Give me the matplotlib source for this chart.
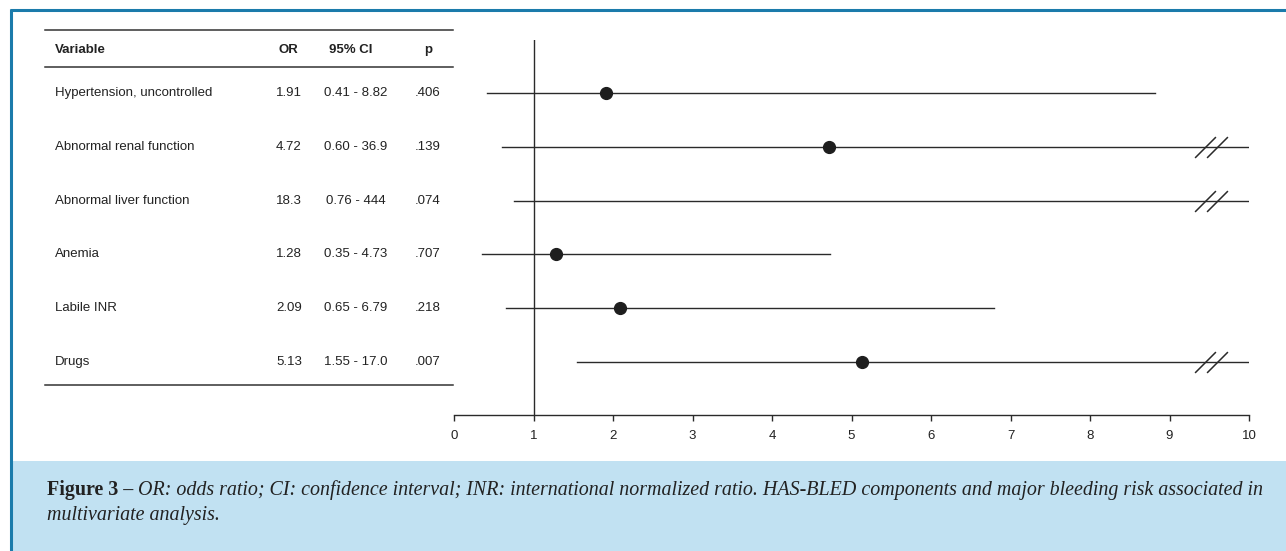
import matplotlib
matplotlib.use("Agg")
import matplotlib.pyplot as plt
import matplotlib.transforms as mtransforms
from matplotlib.lines import Line2D
from matplotlib.patches import Rectangle
from matplotlib.path import Path
from matplotlib.text import Annotation
import numpy as np

# ---- data ----
variables = ["Hypertension, uncontrolled", "Abnormal renal function", "Abnormal liver function",
             "Anemia", "Labile INR", "Drugs"]
or_values = [1.91, 4.72, 18.3, 1.28, 2.09, 5.13]
ci_low = [0.41, 0.60, 0.76, 0.35, 0.65, 1.55]
ci_high = [8.82, 36.9, 444, 4.73, 6.79, 17.0]
or_labels = ["1.91", "4.72", "18.3", "1.28", "2.09", "5.13"]
ci_labels = ["0.41 - 8.82", "0.60 - 36.9", "0.76 - 444", "0.35 - 4.73", "0.65 - 6.79", "1.55 - 17.0"]
p_labels = [".406", ".139", ".074", ".707", ".218", ".007"]
headers = ["Variable", "OR", "95% CI", "p"]
xticks = list(range(0, 11))
caption_bold = "Figure 3 \u2013"
caption_line1 = " OR: odds ratio; CI: confidence interval; INR: international normalized ratio. HAS-BLED components and major bleeding risk associated in"
caption_line2 = "multivariate analysis."

W, H = 1286, 551
fig = plt.figure(figsize=(W / 100, H / 100), dpi=100)
fig.patch.set_facecolor("white")

def fx(px):
    return px / W

def fy(py):
    return 1 - py / H

BLUE = "#1b7bab"
LINE = "#2a2a2a"
TXT = "#222222"

# caption box and frame
fig.add_artist(Rectangle((fx(12), 0), 1 - fx(12), fy(461), transform=fig.transFigure,
                         facecolor="#c1e1f2", edgecolor="none", zorder=0))
fig.add_artist(Line2D([fx(10), 1], [fy(10), fy(10)], transform=fig.transFigure, color=BLUE, lw=2.2,
                      solid_capstyle="butt"))
fig.add_artist(Line2D([fx(10.5), fx(10.5)], [fy(9), 0], transform=fig.transFigure, color=BLUE, lw=2.2,
                      solid_capstyle="butt"))

# forest axes
ax = fig.add_axes([fx(454), fy(415), fx(1249) - fx(454), fy(40) - fy(415)])
ax.set_facecolor("none")
n = len(variables)
ypos = np.arange(n)
ax.set_xlim(0, 10)
ax.set_ylim(n - 1 + 0.985, -0.985)
for s in ["top", "right", "left"]:
    ax.spines[s].set_visible(False)
ax.spines["bottom"].set_color(LINE)
ax.spines["bottom"].set_linewidth(1.0)
ax.set_yticks([])
ax.set_xticks(xticks)
ax.set_xticklabels([str(t) for t in xticks], fontsize=9.5, family="Liberation Sans", color=TXT)
ax.tick_params(axis="x", direction="out", length=4.5, width=1.0, color=LINE, pad=6)

ax.axvline(1, color=LINE, lw=1.0)
for i in range(n):
    ax.plot([ci_low[i], ci_high[i]], [ypos[i], ypos[i]], color=LINE, lw=1.0, clip_on=True)
ax.plot(or_values, ypos, "o", color="#1e1e1e", markersize=8.5, clip_on=True, zorder=3)

# break marks for intervals that extend past the axis
slash = Path([(-0.5, -0.5), (0.5, 0.5)])
for i in range(n):
    if ci_high[i] > ax.get_xlim()[1]:
        ax.plot([9.45, 9.6], [ypos[i], ypos[i]], linestyle="none", marker=slash,
                markersize=15, markeredgewidth=1.1, color=LINE, clip_on=False)

# table
tr = mtransforms.blended_transform_factory(fig.transFigure, ax.transData)
def py2y(py):
    return -0.985 + (py - 40) / 53.8

tfont = dict(family="Liberation Sans", fontsize=9.5, color=TXT)
for yl in [py2y(30), py2y(67), py2y(385)]:
    fig.add_artist(Line2D([fx(45), fx(453)], [yl, yl], transform=tr, color="#333333", lw=1.1))

hy = py2y(50)
fig.text(fx(55), hy, headers[0], transform=tr, ha="left", va="center", fontweight="bold", **tfont)
fig.text(fx(288), hy, headers[1], transform=tr, ha="center", va="center", fontweight="bold", **tfont)
fig.text(fx(351), hy, headers[2], transform=tr, ha="center", va="center", fontweight="bold", **tfont)
fig.text(fx(428), hy, headers[3], transform=tr, ha="center", va="center", fontweight="bold", **tfont)
for i in range(n):
    fig.text(fx(55), ypos[i], variables[i], transform=tr, ha="left", va="center", **tfont)
    fig.text(fx(289), ypos[i], or_labels[i], transform=tr, ha="center", va="center", **tfont)
    fig.text(fx(356), ypos[i], ci_labels[i], transform=tr, ha="center", va="center", **tfont)
    fig.text(fx(428), ypos[i], p_labels[i], transform=tr, ha="center", va="center", **tfont)

# caption
cfont = dict(family="Liberation Serif", fontsize=14.4, color="#222222")
t1 = fig.text(fx(47), fy(495), caption_bold, ha="left", va="baseline", fontweight="bold", **cfont)
fig.add_artist(Annotation(caption_line1, xy=(1, 0), xycoords=t1, va="bottom", ha="left",
                          fontstyle="italic", **cfont))
fig.text(fx(47), fy(520), caption_line2, ha="left", va="baseline", fontstyle="italic", **cfont)

fig.savefig("out.png", dpi=100)
